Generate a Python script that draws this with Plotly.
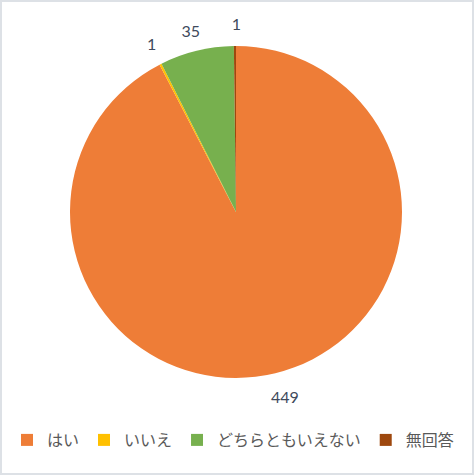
import plotly.graph_objects as go

labels = ["はい", "いいえ", "どちらともいえない", "無回答"]
values = [449, 1, 35, 1]
colors = ["#EE7D37", "#FFC000", "#77B04E", "#9E480E"]

W, H = 474, 475
cx, cy = 236, 212          # pie centre in px
r_pie, r_lab = 166, 178    # pie radius, radius used to place the labels
# px nudges for each label trace (plotly pushes outside text sideways)
lab_shift = [(-12, 3), (6, -2), (11, 0), (11, -1)]


def dom(r, dx=0, dy=0):
    x0, y0 = cx + dx, cy + dy
    return dict(x=[(x0 - r) / W, (x0 + r) / W], y=[1 - (y0 + r) / H, 1 - (y0 - r) / H])


fig = go.Figure()
fig.add_trace(go.Pie(
    labels=labels,
    values=values,
    sort=False,
    direction="clockwise",
    rotation=0,
    marker=dict(colors=colors, line=dict(color="white", width=0)),
    textinfo="none",
    domain=dom(r_pie),
    hoverinfo="label+value",
))

# transparent copies, one label each, so plotly doesn't stack the small ones
for i in range(len(values)):
    fig.add_trace(go.Pie(
        labels=labels,
        values=values,
        sort=False,
        direction="clockwise",
        rotation=0,
        marker=dict(colors=["rgba(0,0,0,0)"] * len(values)),
        textinfo="value",
        textposition=["outside" if j == i else "none" for j in range(len(values))],
        outsidetextfont=dict(family="Lato", size=16, color="#404A5C"),
        domain=dom(r_lab, *lab_shift[i]),
        showlegend=False,
        hoverinfo="skip",
    ))

fig.update_layout(
    width=W,
    height=H,
    margin=dict(l=0, r=0, t=0, b=0),
    paper_bgcolor="white",
    showlegend=True,
    legend=dict(
        orientation="h",
        x=0.5 - 4 / W, xanchor="center",
        y=1 - 440 / H, yanchor="middle",
        font=dict(family="Noto Sans CJK JP", size=16, color="#595959"),
        itemwidth=30,
    ),
    shapes=[dict(type="rect", xref="paper", yref="paper", x0=0, y0=0, x1=1, y1=1,
                 line=dict(color="#DDE1E6", width=4))],
)

fig.write_html("out.html", config={"displayModeBar": False},
               post_script="document.body.style.margin='0';")
